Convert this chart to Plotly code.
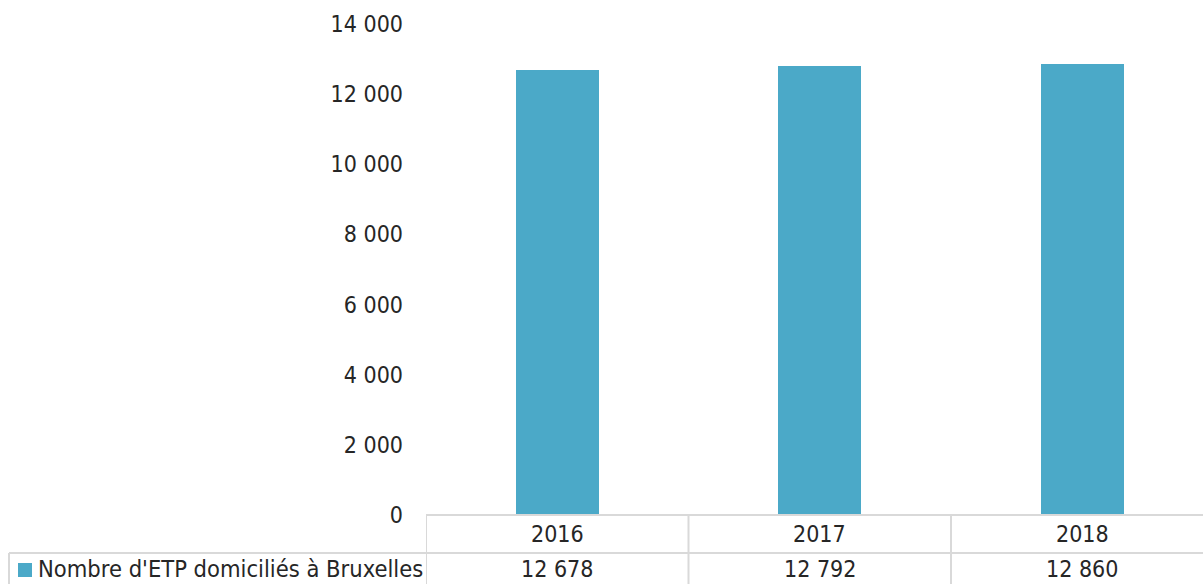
import plotly.graph_objects as go

# Full-time equivalents living in Brussels, by year
years = ["2016", "2017", "2018"]
etp = [12678, 12792, 12860]
series_name = "Nombre d'ETP domiciliés à Bruxelles"
y_ticks = [0, 2000, 4000, 6000, 8000, 10000, 12000, 14000]

W, H = 1203, 584
BAR_COLOR = "#4BA9C8"
GRID = "#D9D9D9"
TEXT = "#262626"
FONT = "DejaVu Sans Condensed, Liberation Sans Narrow, sans-serif"
FS = 23


def fmt(v):
    return f"{v:,}".replace(",", " ")


def px(x):
    return x / W


def py(y):
    return 1 - y / H


plot_left, axis_y, plot_top = 426, 515, 24
head_bottom = 553

fig = go.Figure(
    go.Bar(
        x=list(range(len(years))),
        y=etp,
        width=0.316,
        marker=dict(color=BAR_COLOR, line=dict(width=0)),
        name=series_name,
        showlegend=False,
    )
)

# Data table drawn beneath the plot
shapes = [
    # axis / table top line
    dict(type="line", xref="paper", yref="paper", x0=px(plot_left), x1=1,
         y0=py(axis_y), y1=py(axis_y), line=dict(color=GRID, width=2)),
    # row separator, spans the label cell too
    dict(type="line", xref="paper", yref="paper", x0=px(9), x1=1,
         y0=py(head_bottom), y1=py(head_bottom), line=dict(color=GRID, width=2)),
    # label cell left border
    dict(type="line", xref="paper", yref="paper", x0=px(9), x1=px(9),
         y0=py(head_bottom), y1=0, line=dict(color=GRID, width=2)),
    # legend key
    dict(type="rect", xref="paper", yref="paper", x0=px(18), x1=px(32),
         y0=py(577), y1=py(563), fillcolor=BAR_COLOR, line=dict(width=0)),
]
for b in [i - 0.5 for i in range(len(years))]:
    shapes.append(dict(type="line", xref="x", yref="paper", x0=b, x1=b,
                       y0=py(axis_y), y1=0, line=dict(color=GRID, width=2)))

annotations = [
    dict(text=series_name, xref="paper", yref="paper", x=px(36), y=py(569),
         xanchor="left", yanchor="middle", showarrow=False,
         font=dict(family=FONT, size=23.5, color=TEXT)),
]
for i, (yr, v) in enumerate(zip(years, etp)):
    annotations.append(dict(text=yr, xref="x", yref="paper", x=i, y=py(534),
                            xanchor="center", yanchor="middle", showarrow=False,
                            font=dict(family=FONT, size=FS, color=TEXT)))
    annotations.append(dict(text=fmt(v), xref="x", yref="paper", x=i, y=py(569),
                            xanchor="center", yanchor="middle", showarrow=False,
                            font=dict(family=FONT, size=FS, color=TEXT)))

fig.update_layout(
    template="none",
    width=W, height=H,
    autosize=False,
    margin=dict(l=0, r=0, t=0, b=0, pad=0),
    paper_bgcolor="white", plot_bgcolor="white",
    bargap=0,
    shapes=shapes,
    annotations=annotations,
    xaxis=dict(domain=[px(plot_left), 1], range=[-0.5, 2.46],
               automargin=False,
               showticklabels=False, showgrid=False, zeroline=False,
               showline=False, ticks=""),
    yaxis=dict(domain=[py(axis_y), py(plot_top)], range=[0, 14000],
               automargin=False,
               tickvals=y_ticks, ticktext=[fmt(t) for t in y_ticks],
               showgrid=False, zeroline=False, showline=False, ticks="",
               ticklabelstandoff=22,
               tickfont=dict(family=FONT, size=FS, color=TEXT)),
)

fig.write_html("out.html")
